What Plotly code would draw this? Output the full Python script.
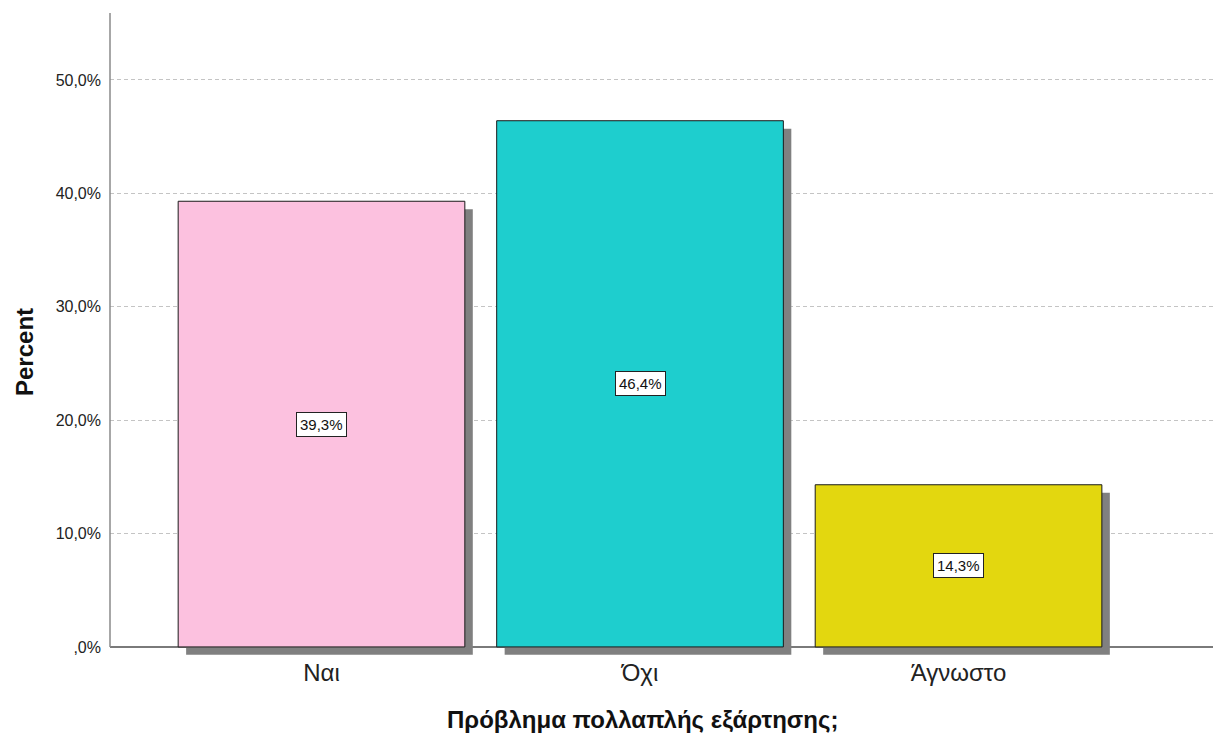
import plotly.graph_objects as go

categories = ["Ναι", "Όχι", "Άγνωστο"]
percents = [39.3, 46.4, 14.3]
bar_colors = ["#FCC1DF", "#1ECECE", "#E3D70F"]
tick_vals = [0, 10, 20, 30, 40, 50]
tick_text = [",0%", "10,0%", "20,0%", "30,0%", "40,0%", "50,0%"]
value_labels = [f"{v:.1f}%".replace(".", ",") for v in percents]

bar_w = 0.9
dx = 0.025
dy = 0.7

# plot area in page pixels: x 110..1221, y 13..656 (page has 8px body margin)
PX0, PX1, PY0, PY1 = 110, 1221, 13, 656

def paper_x(px):
    return (px - PX0) / (PX1 - PX0)

def paper_y(py):
    return (PY1 - py) / (PY1 - PY0)

fig = go.Figure()
# shadow
fig.add_trace(go.Bar(
    x=list(range(len(categories))), y=percents, base=[-dy] * len(percents),
    width=bar_w, offset=-bar_w / 2 + dx,
    marker=dict(color="#808080", line=dict(width=0)),
    hoverinfo="skip", showlegend=False,
))
fig.add_trace(go.Bar(
    x=list(range(len(categories))), y=percents, width=bar_w,
    marker=dict(color=bar_colors, line=dict(color="#1a1a1a", width=1)),
    showlegend=False,
))

for i, (v, lab) in enumerate(zip(percents, value_labels)):
    fig.add_annotation(x=i, y=v / 2, xref="x", yref="y", text=lab, showarrow=False,
                       font=dict(family="Liberation Sans, Arial", size=15, color="#111"),
                       bgcolor="white", bordercolor="#222", borderwidth=1, borderpad=3)

# y axis line
fig.add_shape(type="line", xref="paper", yref="y", x0=0, x1=0, y0=0, y1=55.9,
              line=dict(color="#8a8a8a", width=1.5))

fig.add_annotation(text="<b>Percent</b>", xref="paper", yref="paper", x=0, xshift=24 - PX0,
                   y=paper_y(352), textangle=-90, showarrow=False, xanchor="center", yanchor="middle",
                   font=dict(family="Liberation Sans, Arial", size=24, color="#111"))
fig.add_annotation(text="<b>Πρόβλημα πολλαπλής εξάρτησης;</b>", xref="paper", yref="paper",
                   x=paper_x(642), y=paper_y(719), showarrow=False,
                   xanchor="center", yanchor="middle",
                   font=dict(family="Liberation Sans, Arial", size=24, color="#111"))

fig.update_layout(
    width=1213, height=725,
    margin=dict(l=102, r=0, t=5, b=77),
    paper_bgcolor="white", plot_bgcolor="white",
    barmode="overlay", bargap=0.1,
    xaxis=dict(
        range=[-0.664, 2.824], tickmode="array",
        tickvals=list(range(len(categories))), ticktext=categories,
        showline=False, showgrid=False, zeroline=False,
        tickfont=dict(family="Liberation Sans, Arial", size=24, color="#222"),
        ticks="", ticklabelstandoff=0,
    ),
    yaxis=dict(
        range=[-0.8, 55.9], tickmode="array", tickvals=tick_vals, ticktext=tick_text,
        showgrid=True, gridcolor="#c4c4c4", gridwidth=1, griddash="4px,3px",
        zeroline=True, zerolinecolor="#7a7a7a", zerolinewidth=1.5,
        showline=False, ticks="", ticklabelstandoff=8,
        tickfont=dict(family="Liberation Sans, Arial", size=16, color="#222"),
    ),
)

fig.write_html("out.html")
